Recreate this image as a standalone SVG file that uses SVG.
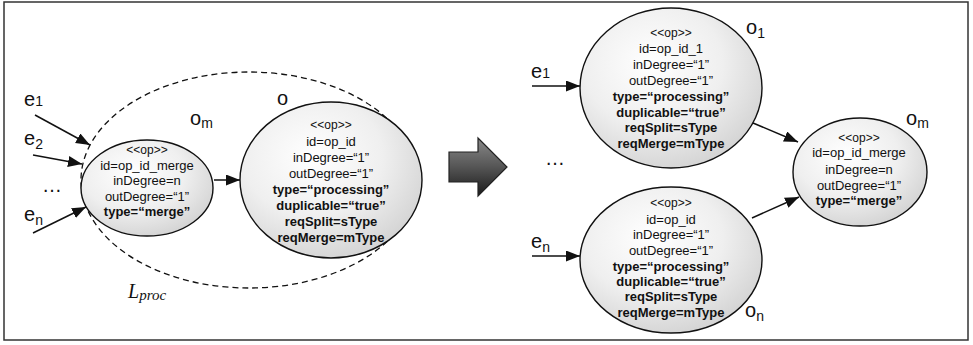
<svg xmlns="http://www.w3.org/2000/svg" width="973" height="345" viewBox="0 0 973 345">
<style>
  .t{font-family:"Liberation Sans",Arial,sans-serif;font-size:13px;fill:#111;text-anchor:middle}
  .s{font-size:12px}
  .b{font-weight:bold}
  .lbl{font-family:"Liberation Sans",Arial,sans-serif;font-size:20px;fill:#111}
  .sub{font-size:14px}
  .node{fill:url(#g);stroke:#111;stroke-width:1.4}
  .edge{stroke:#111;stroke-width:1.5;fill:none;marker-end:url(#ah)}
</style>
<defs>
  <radialGradient id="g" cx="0.4" cy="0.35" r="0.7">
    <stop offset="0" stop-color="#ffffff"/>
    <stop offset="0.55" stop-color="#efefef"/>
    <stop offset="1" stop-color="#d2d2d2"/>
  </radialGradient>
  <linearGradient id="ag" x1="0" y1="0" x2="0" y2="1">
    <stop offset="0" stop-color="#8a8a8a"/>
    <stop offset="0.5" stop-color="#555"/>
    <stop offset="1" stop-color="#1a1a1a"/>
  </linearGradient>
  <marker id="ah" markerUnits="userSpaceOnUse" markerWidth="15" markerHeight="12" refX="14" refY="5.5" orient="auto">
    <path d="M0,0 L14,5.5 L0,11 Z" fill="#111"/>
  </marker>
</defs>
<rect x="4" y="2" width="964" height="338" fill="#fff" stroke="#333" stroke-width="1.5"/>

<g id="Lproc">
  <ellipse cx="249" cy="180" rx="168" ry="108" fill="none" stroke="#111" stroke-width="1.3" stroke-dasharray="6,4"/>
  <text x="128" y="298" font-family="'Liberation Serif','DejaVu Serif',serif" font-style="italic" font-size="20" fill="#111">L<tspan font-size="15" dy="2">proc</tspan></text>
</g>

<g id="connectors">
  <line class="edge" x1="35" y1="115" x2="90" y2="145"/>
  <line class="edge" x1="33" y1="155" x2="82" y2="164"/>
  <line class="edge" x1="33" y1="233" x2="86" y2="207"/>
  <line class="edge" x1="214" y1="180" x2="240" y2="180"/>
  <line class="edge" x1="532" y1="86" x2="580" y2="86"/>
  <line class="edge" x1="532" y1="256" x2="580" y2="256"/>
  <line class="edge" x1="753" y1="123" x2="798" y2="142"/>
  <line class="edge" x1="752" y1="218" x2="799" y2="197"/>
</g>

<g id="edge-labels">
  <text class="lbl" x="24" y="106">e<tspan class="sub">1</tspan></text>
  <text class="lbl" x="24" y="145">e<tspan class="sub" dy="4">2</tspan></text>
  <text class="lbl" x="42" y="192" font-size="16">…</text>
  <text class="lbl" x="24" y="221">e<tspan class="sub" dy="4">n</tspan></text>
  <text class="lbl" x="531" y="78">e<tspan class="sub">1</tspan></text>
  <text class="lbl" x="545" y="165" font-size="16">…</text>
  <text class="lbl" x="531" y="248">e<tspan class="sub" dy="4">n</tspan></text>
</g>

<g id="big-arrow">
  <path d="M449,152 L478,152 L478,138 L507,167 L478,196 L478,182 L449,182 Z" fill="url(#ag)" stroke="#222" stroke-width="1.2"/>
</g>

<g id="om-left">
  <ellipse class="node" cx="147" cy="188" rx="66" ry="48"/>
  <text class="lbl" x="190" y="125">o<tspan class="sub" dy="3">m</tspan></text>
  <text class="t s" x="147" y="154">&lt;&lt;op&gt;&gt;</text>
  <text class="t" x="147" y="170">id=op_id_merge</text>
  <text class="t" x="147" y="185">inDegree=n</text>
  <text class="t" x="147" y="201">outDegree=“1”</text>
  <text class="t b" x="147" y="216">type=“merge”</text>
</g>

<g id="o">
  <ellipse class="node" cx="331" cy="180" rx="91" ry="78"/>
  <text class="lbl" x="277" y="105">o</text>
  <text class="t s" x="331" y="129">&lt;&lt;op&gt;&gt;</text>
  <text class="t" x="331" y="146">id=op_id</text>
  <text class="t" x="331" y="162">inDegree=“1”</text>
  <text class="t" x="331" y="178">outDegree=“1”</text>
  <text class="t b" x="331" y="194">type=“processing”</text>
  <text class="t b" x="331" y="210">duplicable=“true”</text>
  <text class="t b" x="331" y="226">reqSplit=sType</text>
  <text class="t b" x="331" y="242">reqMerge=mType</text>
</g>

<g id="o1">
  <ellipse class="node" cx="671" cy="88" rx="91" ry="80"/>
  <text class="lbl" x="746" y="34" font-size="18">o<tspan class="sub" dy="4">1</tspan></text>
  <text class="t s" x="671" y="37">&lt;&lt;op&gt;&gt;</text>
  <text class="t" x="671" y="53">id=op_id_1</text>
  <text class="t" x="671" y="69">inDegree=“1”</text>
  <text class="t" x="671" y="85">outDegree=“1”</text>
  <text class="t b" x="671" y="101">type=“processing”</text>
  <text class="t b" x="671" y="117">duplicable=“true”</text>
  <text class="t b" x="671" y="132">reqSplit=sType</text>
  <text class="t b" x="671" y="148">reqMerge=mType</text>
</g>

<g id="on">
  <ellipse class="node" cx="671" cy="260" rx="91" ry="73"/>
  <text class="lbl" x="745" y="317" font-size="18">o<tspan class="sub" dy="4">n</tspan></text>
  <text class="t s" x="671" y="207">&lt;&lt;op&gt;&gt;</text>
  <text class="t" x="671" y="224">id=op_id</text>
  <text class="t" x="671" y="239">inDegree=“1”</text>
  <text class="t" x="671" y="255">outDegree=“1”</text>
  <text class="t b" x="671" y="271">type=“processing”</text>
  <text class="t b" x="671" y="286">duplicable=“true”</text>
  <text class="t b" x="671" y="301">reqSplit=sType</text>
  <text class="t b" x="671" y="317">reqMerge=mType</text>
</g>

<g id="om-right">
  <ellipse class="node" cx="860" cy="172" rx="67" ry="54"/>
  <text class="lbl" x="906" y="125">o<tspan class="sub" dy="3">m</tspan></text>
  <text class="t s" x="859" y="142">&lt;&lt;op&gt;&gt;</text>
  <text class="t" x="859" y="157">id=op_id_merge</text>
  <text class="t" x="859" y="174">inDegree=n</text>
  <text class="t" x="859" y="190">outDegree=“1”</text>
  <text class="t b" x="859" y="205">type=“merge”</text>
</g>
</svg>
